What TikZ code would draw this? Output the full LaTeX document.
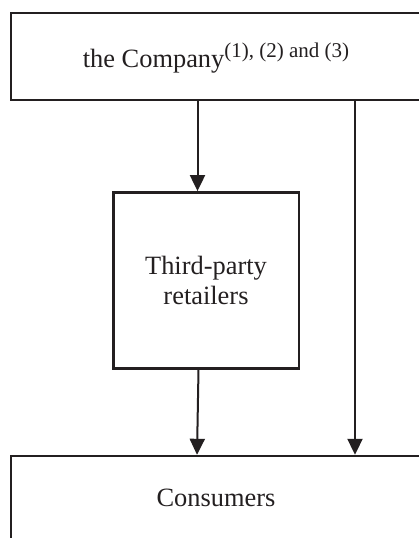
\documentclass[tikz,border=0pt]{standalone}
\usepackage{fontspec}
\setmainfont{Liberation Serif}
\usetikzlibrary{arrows.meta}
\definecolor{ink}{RGB}{35,31,32}
\begin{document}
\begin{tikzpicture}[x=1pt,y=-1pt,
  box/.style={draw=ink,line width=2.4pt,inner sep=0pt,text=ink,
    font=\fontsize{26.4}{30.6}\selectfont},
  arr/.style={draw=ink,line width=2pt,-{Triangle[length=16pt,width=15pt]}}]
  \useasboundingbox (0,0) rectangle (419,538);
  \clip (0,0) rectangle (419,538);
  % supplier box across the top
  \node[box,minimum width=410pt,minimum height=87pt,text height=27pt,text depth=6pt]
    (company) at (216,56.5)
    {the Company\raisebox{10pt}{\fontsize{21}{21}\selectfont(1), (2) and (3)}};
  % intermediate channel
  \node[box,minimum width=185.4pt,minimum height=176pt,align=center]
    (retailers) at (206,280.3) {Third-party\\retailers};
  % end customers, open at the bottom
  \node[box,minimum width=410pt,minimum height=100pt,text height=50pt,text depth=50pt]
    (consumers) at (216,506) {Consumers};
  % flows
  \draw[arr] ([xshift=-8.5pt]retailers.north |- company.south) -- ([xshift=-8.5pt]retailers.north);
  \draw[arr] ([xshift=-7.5pt]retailers.south) -- ([xshift=-19pt]consumers.north);
  \draw[arr] ([xshift=139pt]company.south) -- ([xshift=139pt]consumers.north);
\end{tikzpicture}
\end{document}
